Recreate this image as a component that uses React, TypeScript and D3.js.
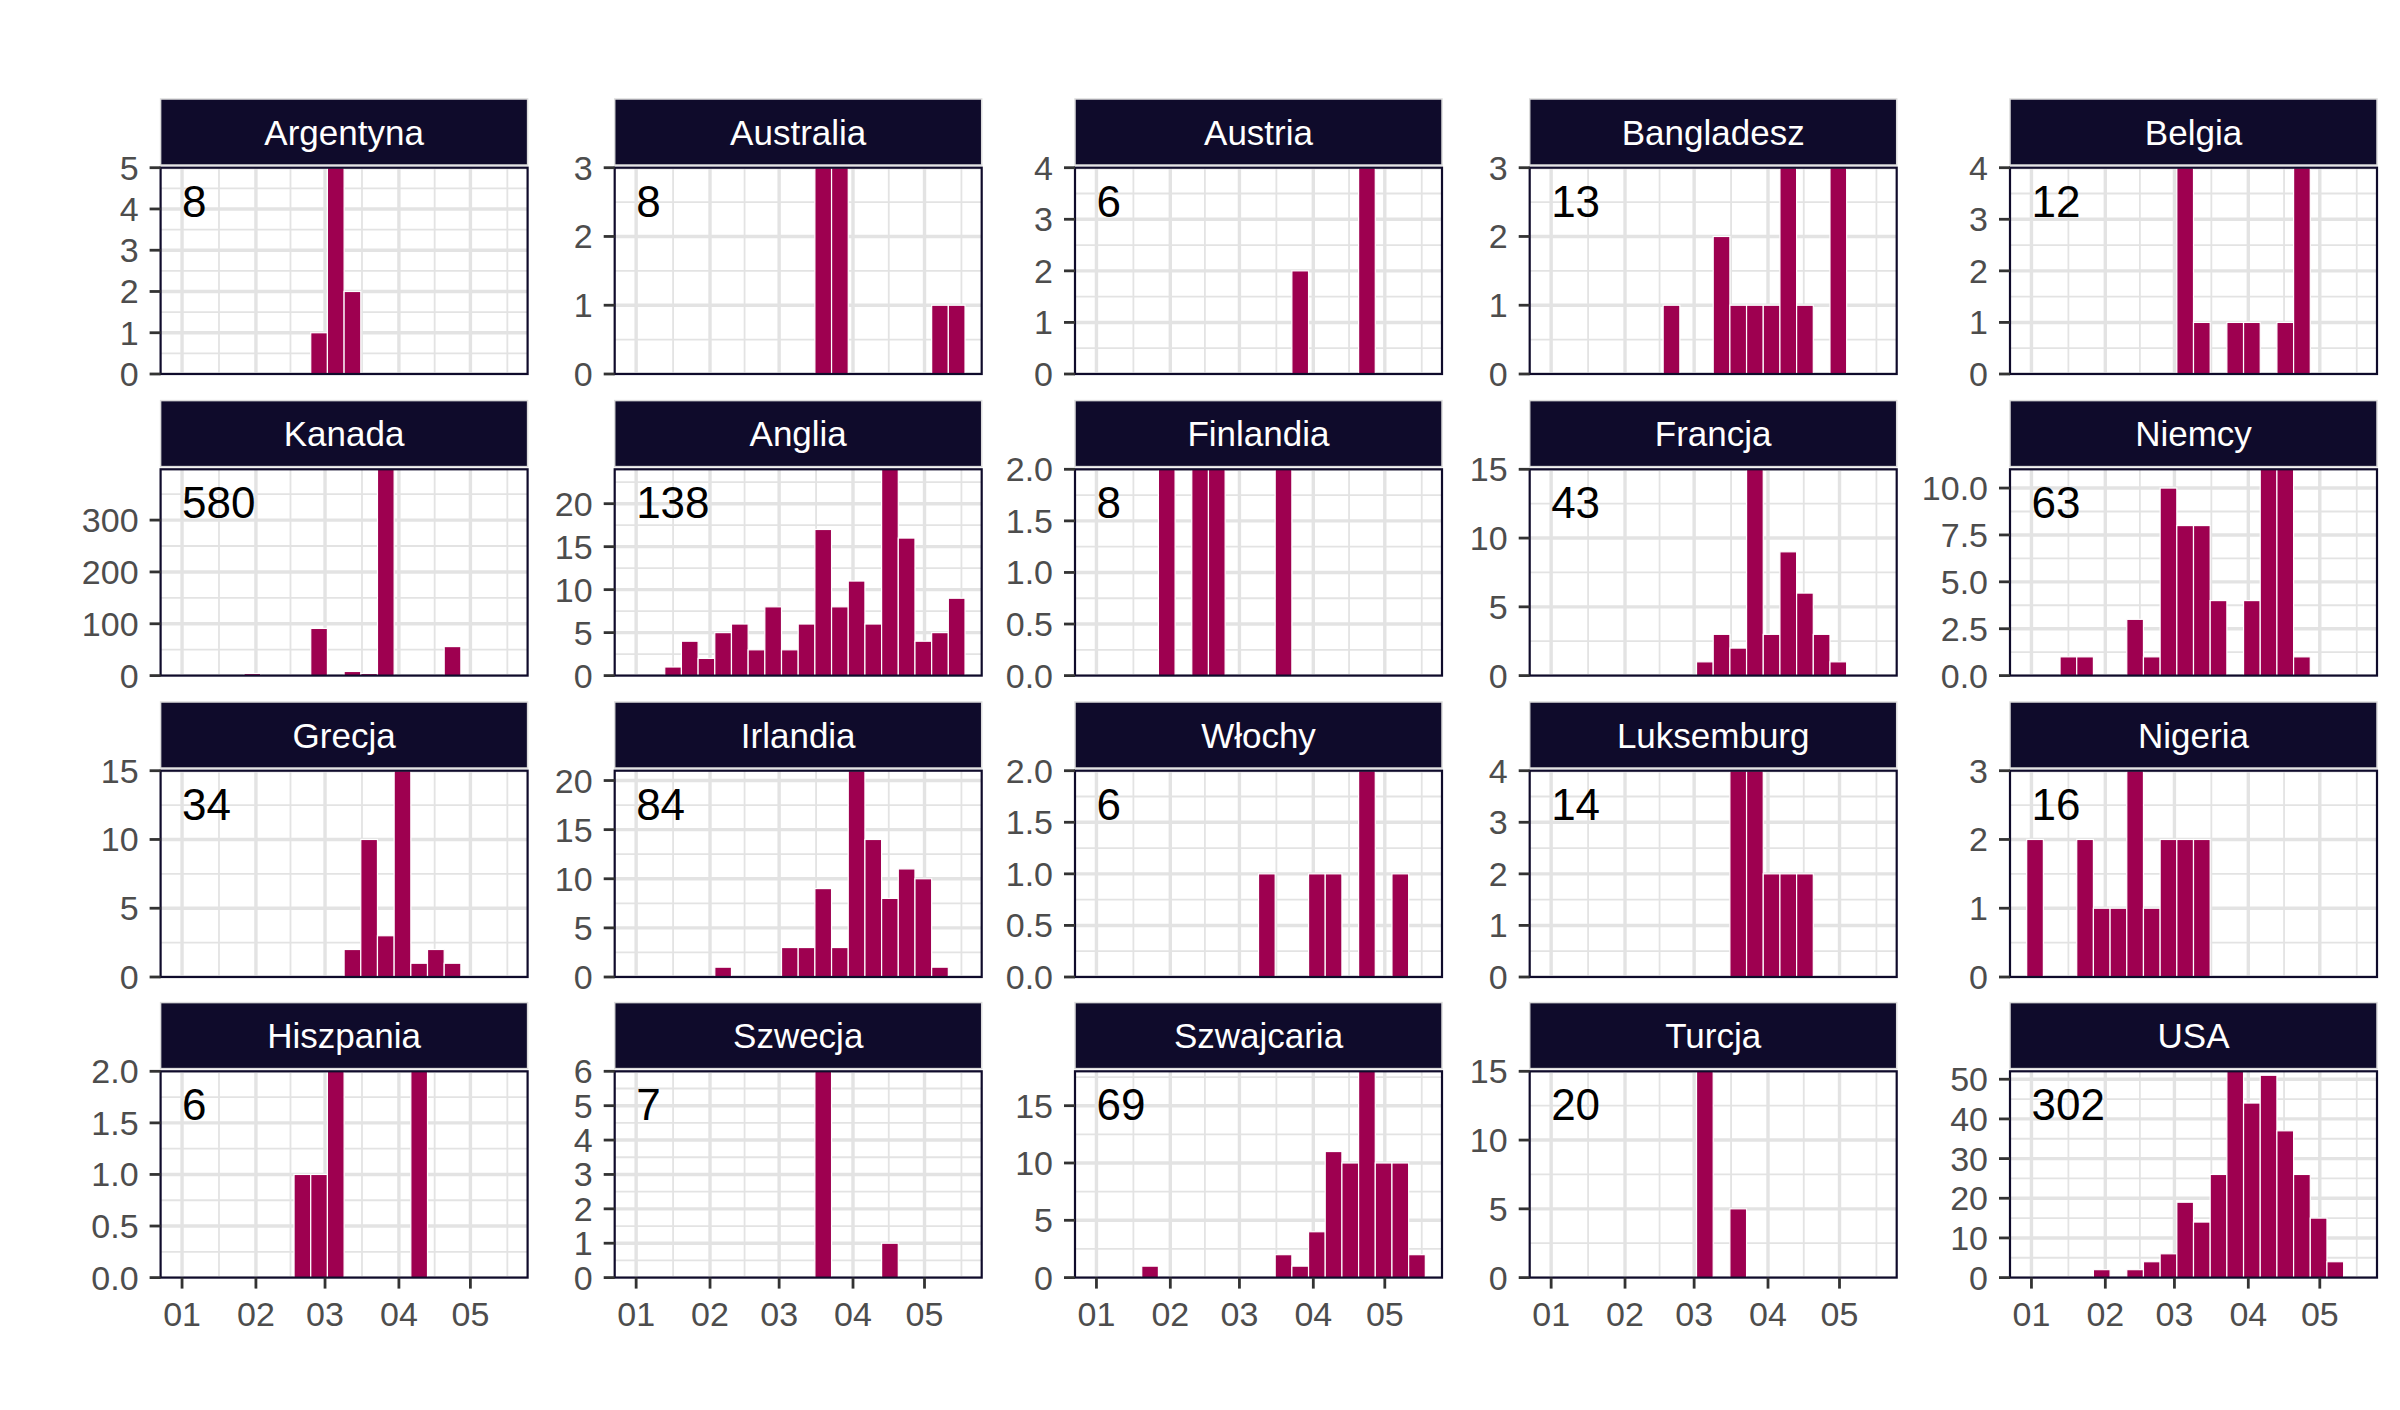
import * as d3 from 'd3';

// Facets in reading order (5 columns x 4 rows)
const countries = [
  'Argentyna', 'Australia', 'Austria', 'Bangladesz', 'Belgia',
  'Kanada', 'Anglia', 'Finlandia', 'Francja', 'Niemcy',
  'Grecja', 'Irlandia', 'Włochy', 'Luksemburg', 'Nigeria',
  'Hiszpania', 'Szwecja', 'Szwajcaria', 'Turcja', 'USA',
];

const totals = ['8', '8', '6', '13', '12', '580', '138', '8', '43', '63', '34', '84', '6', '14', '16', '6', '7', '69', '20', '302'];

// weekly bins (start dates)
const weekStarts = [
  '2019-12-30', '2020-01-06', '2020-01-13', '2020-01-20', '2020-01-27',
  '2020-02-03', '2020-02-10', '2020-02-17', '2020-02-24', '2020-03-02',
  '2020-03-09', '2020-03-16', '2020-03-23', '2020-03-30', '2020-04-06',
  '2020-04-13', '2020-04-20', '2020-04-27', '2020-05-04', '2020-05-11',
];

const argentyna = [0, 0, 0, 0, 0, 0, 0, 0, 1, 5, 2, 0, 0, 0, 0, 0, 0, 0, 0, 0];
const australia = [0, 0, 0, 0, 0, 0, 0, 0, 0, 0, 0, 3, 3, 0, 0, 0, 0, 0, 1, 1];
const austria = [0, 0, 0, 0, 0, 0, 0, 0, 0, 0, 0, 0, 2, 0, 0, 0, 4, 0, 0, 0];
const bangladesz = [0, 0, 0, 0, 0, 0, 0, 1, 0, 0, 2, 1, 1, 1, 3, 1, 0, 3, 0, 0];
const belgia = [0, 0, 0, 0, 0, 0, 0, 0, 0, 4, 1, 0, 1, 1, 0, 1, 4, 0, 0, 0];
const kanada = [0, 0, 0, 0, 4, 0, 0, 0, 91, 0, 8, 4, 398, 0, 0, 0, 56, 0, 0, 0];
const anglia = [0, 0, 1, 4, 2, 5, 6, 3, 8, 3, 6, 17, 8, 11, 6, 24, 16, 4, 5, 9];
const finlandia = [0, 0, 0, 0, 2, 0, 2, 2, 0, 0, 0, 2, 0, 0, 0, 0, 0, 0, 0, 0];
const francja = [0, 0, 0, 0, 0, 0, 0, 0, 0, 1, 3, 2, 15, 3, 9, 6, 3, 1, 0, 0];
const niemcy = [0, 0, 1, 1, 0, 0, 3, 1, 10, 8, 8, 4, 0, 4, 11, 11, 1, 0, 0, 0];
const grecja = [0, 0, 0, 0, 0, 0, 0, 0, 0, 0, 2, 10, 3, 15, 1, 2, 1, 0, 0, 0];
const irlandia = [0, 0, 0, 0, 0, 1, 0, 0, 0, 3, 3, 9, 3, 21, 14, 8, 11, 10, 1, 0];
const wlochy = [0, 0, 0, 0, 0, 0, 0, 0, 0, 0, 1, 0, 0, 1, 1, 0, 2, 0, 1, 0];
const luksemburg = [0, 0, 0, 0, 0, 0, 0, 0, 0, 0, 0, 4, 4, 2, 2, 2, 0, 0, 0, 0];
const nigeria = [2, 0, 0, 2, 1, 1, 3, 1, 2, 2, 2, 0, 0, 0, 0, 0, 0, 0, 0, 0];
const hiszpania = [0, 0, 0, 0, 0, 0, 0, 1, 1, 2, 0, 0, 0, 0, 2, 0, 0, 0, 0, 0];
const szwecja = [0, 0, 0, 0, 0, 0, 0, 0, 0, 0, 0, 6, 0, 0, 0, 1, 0, 0, 0, 0];
const szwajcaria = [0, 0, 0, 1, 0, 0, 0, 0, 0, 0, 0, 2, 1, 4, 11, 10, 18, 10, 10, 2];
const turcja = [0, 0, 0, 0, 0, 0, 0, 0, 0, 15, 0, 5, 0, 0, 0, 0, 0, 0, 0, 0];
const usa = [0, 0, 0, 0, 2, 0, 2, 4, 6, 19, 14, 26, 52, 44, 51, 37, 26, 15, 4, 0];

const weeklyCounts = [
  argentyna, australia, austria, bangladesz, belgia,
  kanada, anglia, finlandia, francja, niemcy,
  grecja, irlandia, wlochy, luksemburg, nigeria,
  hiszpania, szwecja, szwajcaria, turcja, usa,
];

const yTickLabels = [
  ['0', '1', '2', '3', '4', '5'], ['0', '1', '2', '3'], ['0', '1', '2', '3', '4'], ['0', '1', '2', '3'], ['0', '1', '2', '3', '4'],
  ['0', '100', '200', '300'], ['0', '5', '10', '15', '20'], ['0.0', '0.5', '1.0', '1.5', '2.0'], ['0', '5', '10', '15'], ['0.0', '2.5', '5.0', '7.5', '10.0'],
  ['0', '5', '10', '15'], ['0', '5', '10', '15', '20'], ['0.0', '0.5', '1.0', '1.5', '2.0'], ['0', '1', '2', '3', '4'], ['0', '1', '2', '3'],
  ['0.0', '0.5', '1.0', '1.5', '2.0'], ['0', '1', '2', '3', '4', '5', '6'], ['0', '5', '10', '15'], ['0', '5', '10', '15'], ['0', '10', '20', '30', '40', '50'],
];

const xTickDates = ['2020-01-01', '2020-02-01', '2020-03-01', '2020-04-01', '2020-05-01'];
const xTickLabels = ['01', '02', '03', '04', '05'];

// layout
const W = 2400;
const H = 1410;
const colLeft = [160.6, 614.7, 1075, 1529.7, 2010];
const rowTop = [167.7, 469.3, 770.7, 1071.3];
const panelW = 367;
const panelH = 206.3;
const stripH = 66;
const stripGap = 2.7;

const FONT = "'Liberation Sans', Arial, sans-serif";
const BAR = '#9e0050';
const NAVY = '#0f0b2b';
const GRID = '#e3e3e3';

const parse = d3.utcParse('%Y-%m-%d');
const DAY = 864e5;
const bins = weekStarts.map(s => parse(s)!);
const binEnd = new Date(+bins[bins.length - 1] + 7 * DAY);
const pad = (+binEnd - +bins[0]) * 0.05;
const xDomain = [new Date(+bins[0] - pad), new Date(+binEnd + pad)];

const majorDates = xTickDates.map(s => parse(s)!);
const bd = +majorDates[1] - +majorDates[0];
const extMajors = [+majorDates[0] - bd, ...majorDates.map(d => +d), +majorDates[majorDates.length - 1] + bd];
const minorDates = d3.pairs(extMajors).map(([a, b]) => new Date((a + b) / 2))
  .filter(d => d > xDomain[0] && d < xDomain[1]);

function Panel({ idx }: { idx: number }) {
  const col = idx % 5;
  const row = Math.floor(idx / 5);
  const x0 = colLeft[col];
  const y0 = rowTop[row];
  const counts = weeklyCounts[idx];
  const yMax = d3.max(counts) as number;

  const x = d3.scaleUtc().domain(xDomain).range([x0, x0 + panelW]);
  const y = d3.scaleLinear().domain([0, yMax]).range([y0 + panelH, y0]);

  const ticks = yTickLabels[idx].map(Number);
  const step = ticks[1] - ticks[0];
  const minorY = ticks.map(t => t + step / 2).filter(v => v < yMax);
  const clipId = `clip-${idx}`;
  const stripTop = y0 - stripGap - stripH;
  const bottomRow = row === rowTop.length - 1;

  return (
    <g>
      <defs>
        <clipPath id={clipId}>
          <rect x={x0} y={y0} width={panelW} height={panelH} />
        </clipPath>
      </defs>

      {/* strip */}
      <rect x={x0} y={stripTop} width={panelW} height={stripH} fill={NAVY} stroke="#dcdcdc" strokeWidth={1.5} />
      <text x={x0 + panelW / 2} y={stripTop + stripH / 2 + 12.5} textAnchor="middle" fill="#ffffff"
        fontFamily={FONT} fontSize={35}>{countries[idx]}</text>

      {/* panel */}
      <rect x={x0} y={y0} width={panelW} height={panelH} fill="#ffffff" />
      <g clipPath={`url(#${clipId})`}>
        {minorY.map((v, i) => (
          <line key={`my${i}`} x1={x0} x2={x0 + panelW} y1={y(v)} y2={y(v)} stroke={GRID} strokeWidth={1.8} />
        ))}
        {minorDates.map((d, i) => (
          <line key={`mx${i}`} x1={x(d)} x2={x(d)} y1={y0} y2={y0 + panelH} stroke={GRID} strokeWidth={1.8} />
        ))}
        {ticks.map((v, i) => (
          <line key={`gy${i}`} x1={x0} x2={x0 + panelW} y1={y(v)} y2={y(v)} stroke={GRID} strokeWidth={3.4} />
        ))}
        {majorDates.map((d, i) => (
          <line key={`gx${i}`} x1={x(d)} x2={x(d)} y1={y0} y2={y0 + panelH} stroke={GRID} strokeWidth={3.4} />
        ))}
        {counts.map((c, i) => c > 0 && (
          <rect key={`b${i}`} x={x(bins[i])} y={y(c)}
            width={x(new Date(+bins[i] + 7 * DAY)) - x(bins[i])} height={y(0) - y(c)}
            fill={BAR} stroke="#ffffff" strokeWidth={1.2} />
        ))}
      </g>
      <text x={x(majorDates[0])} y={y0 + 49} fill="#000000" fontFamily={FONT} fontSize={44}>{totals[idx]}</text>
      <rect x={x0} y={y0} width={panelW} height={panelH} fill="none" stroke={NAVY} strokeWidth={2.2} />

      {/* y axis */}
      {ticks.map((v, i) => (
        <g key={`yt${i}`}>
          <line x1={x0 - 11} x2={x0} y1={y(v)} y2={y(v)} stroke="#333333" strokeWidth={2.8} />
          <text x={x0 - 22} y={y(v) + 12} textAnchor="end" fill="#4d4d4d" fontFamily={FONT} fontSize={34}>
            {yTickLabels[idx][i]}
          </text>
        </g>
      ))}

      {/* x axis, bottom row only */}
      {bottomRow && majorDates.map((d, i) => (
        <g key={`xt${i}`}>
          <line x1={x(d)} x2={x(d)} y1={y0 + panelH} y2={y0 + panelH + 11} stroke="#333333" strokeWidth={2.8} />
          <text x={x(d)} y={y0 + panelH + 48} textAnchor="middle" fill="#4d4d4d" fontFamily={FONT} fontSize={34}>
            {xTickLabels[i]}
          </text>
        </g>
      ))}
    </g>
  );
}

export default function App() {
  return (
    <svg width={W} height={H} viewBox={`0 0 ${W} ${H}`}
      style={{ position: 'absolute', left: 0, top: 0, display: 'block', background: '#ffffff' }}>
      <rect width={W} height={H} fill="#ffffff" />
      {countries.map((c, i) => <Panel key={c} idx={i} />)}
    </svg>
  );
}
